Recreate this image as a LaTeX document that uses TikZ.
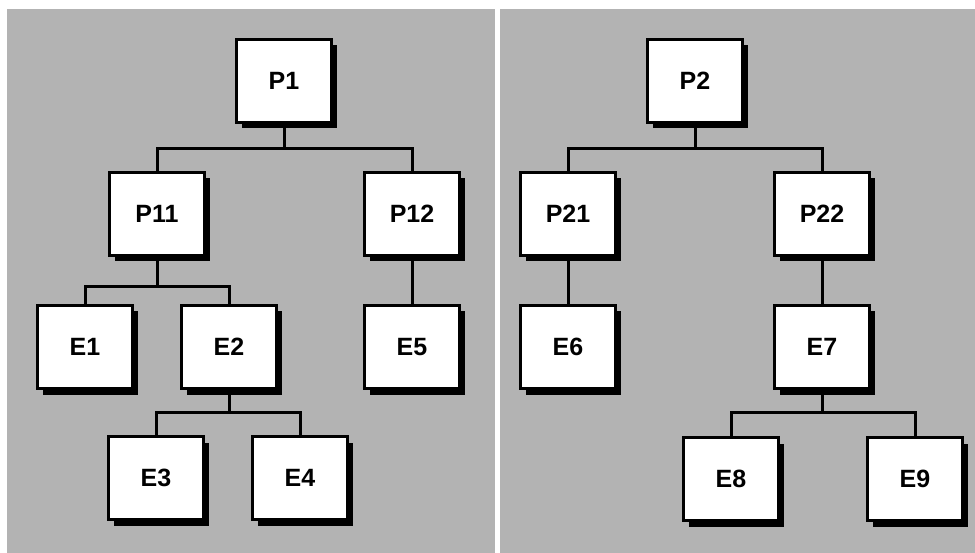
\documentclass[tikz,border=0pt]{standalone}
\usepackage{fontspec}
\setmainfont{Liberation Sans}
\usetikzlibrary{shadows}
\definecolor{panelgray}{RGB}{179,179,179}
\tikzset{
  box/.style={draw=black, fill=white, line width=3pt, minimum width=95pt, minimum height=83pt,
    inner sep=0pt, font=\bfseries\fontsize{25}{25}\selectfont,
    drop shadow={shadow xshift=5pt, shadow yshift=-6pt, fill=black, opacity=1}},
  conn/.style={draw=black, line width=3pt}
}
\begin{document}
\begin{tikzpicture}[x=1pt,y=-1pt]
\useasboundingbox (0,0) rectangle (975,553);
\fill[white] (0,0) rectangle (975,553);
\fill[panelgray] (7,9) rectangle (495,553);
\fill[panelgray] (500,9) rectangle (975,553);
% left tree
\node[box] (P1)  at (284,81)  {P1};
\node[box] (P11) at (157,214) {P11};
\node[box] (P12) at (412,214) {P12};
\node[box] (E1)  at (85,347)  {E1};
\node[box] (E2)  at (229,347) {E2};
\node[box] (E5)  at (412,347) {E5};
\node[box] (E3)  at (156,478) {E3};
\node[box] (E4)  at (300,478) {E4};
% right tree
\node[box] (P2)  at (695,81)  {P2};
\node[box] (P21) at (568,214) {P21};
\node[box] (P22) at (822,214) {P22};
\node[box] (E6)  at (568,347) {E6};
\node[box] (E7)  at (822,347) {E7};
\node[box] (E8)  at (731,479) {E8};
\node[box] (E9)  at (915,479) {E9};
% bus points
\coordinate (b1) at (284,149);
\coordinate (b2) at (157,287);
\coordinate (b3) at (229,412);
\coordinate (b4) at (695,149);
\coordinate (b5) at (822,412);
% connectors
\draw[conn] (P1.south) -- (b1);
\draw[conn] (P11.north) |- (b1) -| (P12.north);
\draw[conn] (P11.south) -- (b2);
\draw[conn] (E1.north) |- (b2) -| (E2.north);
\draw[conn] (P12.south) -- (E5.north);
\draw[conn] (E2.south) -- (b3);
\draw[conn] (E3.north) |- (b3) -| (E4.north);
\draw[conn] (P2.south) -- (b4);
\draw[conn] (P21.north) |- (b4) -| (P22.north);
\draw[conn] (P21.south) -- (E6.north);
\draw[conn] (P22.south) -- (E7.north);
\draw[conn] (E7.south) -- (b5);
\draw[conn] (E8.north) |- (b5) -| (E9.north);
\end{tikzpicture}
\end{document}
